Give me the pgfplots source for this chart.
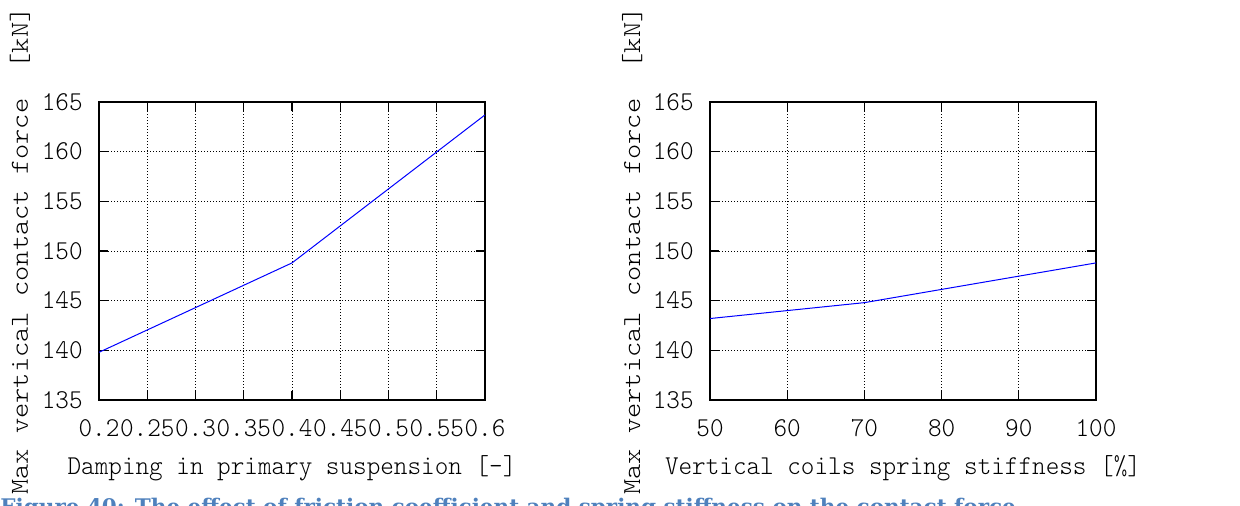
\documentclass[border=0pt]{standalone}
\usepackage{fontspec}
\setmainfont{Liberation Serif}
\setmonofont{Latin Modern Mono Light}
\newfontfamily\capfont{DejaVu Serif}
\usepackage{graphicx}
\usepackage{pgfplots}
\pgfplotsset{compat=1.18}
\definecolor{capblue}{RGB}{79,129,189}
\newcommand{\sx}[1]{\scalebox{1}[1.05]{#1}}
\newcommand{\sy}[1]{\scalebox{1.12}[1]{#1}}
\pgfplotsset{gstyle/.style={
  scale only axis, width=193pt, height=149pt, anchor=south west,
  font=\fontsize{12.95}{15}\selectfont\ttfamily,
  axis line style={line width=0.9pt},
  tick style={black, line width=0.6pt},
  major tick length=4.5pt,
  tick align=inside,
  tick pos=both,
  grid=major,
  grid style={black, line width=0.45pt, dash pattern=on 0.5pt off 1pt},
  ymin=135, ymax=165, ytick={135,140,145,150,155,160,165},
  yticklabels={\sx{135},\sx{140},\sx{145},\sx{150},\sx{155},\sx{160},\sx{165}},
  yticklabel style={anchor=east, inner sep=0pt, xshift=-8pt},
  xticklabel style={anchor=center, inner sep=0pt, yshift=-14pt},
  xlabel style={at={(axis description cs:0.5,-0.228)}, anchor=center, inner sep=0pt},
  ylabel={\sy{Max vertical contact force\ \ [kN]}},
}}
\begin{document}
\begin{tikzpicture}
\useasboundingbox (0,0) rectangle (620pt,253pt);
\clip (0,0) rectangle (620pt,253pt);
\begin{axis}[gstyle, at={(49.5pt,53pt)},
  xmin=0.2, xmax=0.6,
  xtick={0.2,0.25,0.3,0.35,0.4,0.45,0.5,0.55,0.6},
  xticklabels={\sx{0.2},\sx{0.25},\sx{0.3},\sx{0.35},\sx{0.4},\sx{0.45},\sx{0.5},\sx{0.55},\sx{0.6}},
  xlabel={\sx{Damping in primary suspension [-]}},
  ylabel style={at={(axis description cs:-0.205,0.5)}, anchor=center, inner sep=0pt},
]
\addplot[color={rgb,255:red,0;green,0;blue,255}, line width=0.5pt, mark=none] coordinates {(0.2,139.8) (0.4,148.8) (0.6,163.7)};
\end{axis}
\begin{axis}[gstyle, at={(355pt,53pt)},
  xmin=50, xmax=100,
  xtick={50,60,70,80,90,100},
  xticklabels={\sx{50},\sx{60},\sx{70},\sx{80},\sx{90},\sx{100}},
  xlabel={\sx{Vertical coils spring stiffness [\%]}},
  ylabel style={at={(axis description cs:-0.2016,0.5)}, anchor=center, inner sep=0pt},
]
\addplot[color={rgb,255:red,0;green,0;blue,255}, line width=0.5pt, mark=none] coordinates {(50,143.2) (70,144.8) (100,148.8)};
\end{axis}
\node[anchor=base west, inner sep=0pt, text=capblue] at (0pt,-4.5pt) {\resizebox{511.5pt}{!}{\capfont\bfseries Figure 40: The effect of friction coefficient and spring stiffness on the contact force.}};
\end{tikzpicture}
\end{document}
